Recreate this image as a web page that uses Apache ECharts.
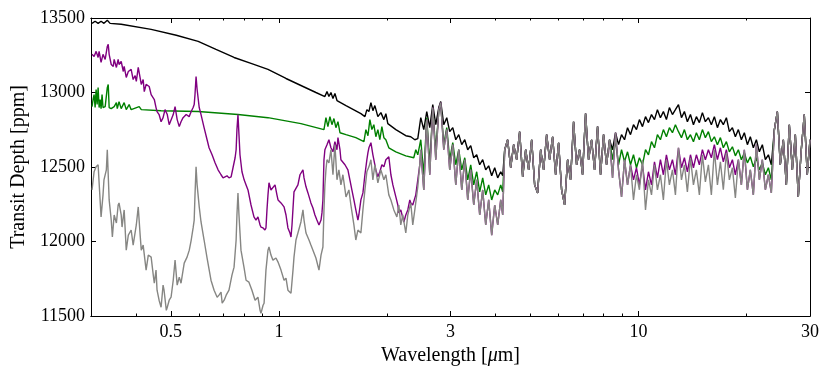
<!DOCTYPE html>
<html>
<head>
<meta charset="utf-8">
<script src="https://cdn.jsdelivr.net/npm/echarts@6/dist/echarts.min.js"></script>
<style>
  html, body { margin: 0; padding: 0; background: #fff; }
  #chart { width: 830px; height: 375px; }
</style>
</head>
<body>
<div id="chart"></div>
<script>
// wavelength [um], transit depth [ppm], short-wave part of each model
var blackHead = [
  [0.302, 13464], [0.308, 13478], [0.314, 13464], [0.320, 13478], [0.326, 13464], [0.333, 13485],
  [0.339, 13464], [0.364, 13458], [0.441, 13424], [0.518, 13384], [0.596, 13343], [0.668, 13289],
  [0.750, 13235], [0.836, 13195], [0.932, 13155], [1.046, 13094], [1.151, 13047], [1.267, 13000],
  [1.342, 12973], [1.360, 13006], [1.377, 12973], [1.395, 13000], [1.413, 12959], [1.431, 12993],
  [1.450, 12946], [1.468, 12959], [1.536, 12912], [1.690, 12858], [1.734, 12838], [1.756, 12885],
  [1.779, 12872], [1.802, 12932], [1.825, 12878], [1.848, 12912], [1.884, 12838], [1.921, 12865],
  [1.958, 12818], [1.983, 12858], [2.008, 12791], [2.114, 12751], [2.253, 12710], [2.326, 12703],
  [2.387, 12683], [2.433, 12690], [2.480, 12831], [2.528, 12751], [2.577, 12872], [2.627, 12764],
  [2.678, 12919], [2.730, 12784], [2.783, 12899], [2.818, 12939], [2.873, 12784], [2.929, 12831],
  [2.985, 12737], [3.044, 12764], [3.103, 12683], [3.163, 12717], [3.224, 12650], [3.287, 12683],
  [3.350, 12616], [3.415, 12643], [3.481, 12562], [3.548, 12582], [3.617, 12515], [3.687, 12549],
  [3.759, 12481], [3.831, 12508], [3.906, 12441], [3.982, 12495], [4.059, 12427], [4.138, 12468],
  [4.191, 12441]
];

var greenHead = [
  [0.302, 12905], [0.304, 12953], [0.306, 12986], [0.308, 12899], [0.310, 13020], [0.312, 12919],
  [0.314, 13033], [0.316, 12899], [0.318, 12953], [0.320, 12892], [0.322, 12986], [0.324, 12899],
  [0.3285, 12905], [0.333, 13033], [0.335, 13054], [0.337, 12899], [0.3415, 12892], [0.348, 12905],
  [0.353, 12932], [0.355, 12892], [0.359, 12939], [0.364, 12892], [0.371, 12932], [0.376, 12885],
  [0.383, 12919], [0.388, 12885], [0.4085, 12905], [0.414, 12885], [0.470, 12878], [0.596, 12872],
  [0.769, 12852], [0.932, 12831], [1.151, 12791], [1.334, 12751], [1.351, 12831], [1.368, 12771],
  [1.386, 12838], [1.404, 12784], [1.422, 12825], [1.440, 12764], [1.459, 12804], [1.478, 12730],
  [1.536, 12717], [1.636, 12697], [1.723, 12670], [1.745, 12751], [1.768, 12710], [1.790, 12818],
  [1.813, 12751], [1.836, 12784], [1.860, 12703], [1.884, 12751], [1.908, 12683], [1.933, 12771],
  [1.958, 12697], [1.983, 12683], [2.021, 12629], [2.114, 12602], [2.253, 12575], [2.371, 12562],
  [2.402, 12616], [2.433, 12582], [2.480, 12683], [2.528, 12448], [2.577, 12831], [2.627, 12515],
  [2.678, 12885], [2.730, 12616], [2.783, 12872], [2.818, 12926], [2.873, 12650], [2.929, 12764],
  [2.985, 12549], [3.044, 12663], [3.103, 12515], [3.163, 12616], [3.224, 12481], [3.287, 12562],
  [3.350, 12414], [3.415, 12515], [3.481, 12380], [3.548, 12468], [3.617, 12333], [3.687, 12427],
  [3.759, 12313], [3.831, 12380], [3.906, 12279], [3.982, 12346], [4.059, 12313], [4.138, 12380],
  [4.191, 12333]
];

// purple runs on the grey curve beyond 2.44 um
var purpleHead = [
  [0.302, 13256], [0.306, 13242], [0.310, 13276], [0.314, 13235], [0.316, 13276], [0.320, 13202],
  [0.324, 13256], [0.3285, 13222], [0.333, 13309], [0.335, 13323], [0.337, 13256], [0.3415, 13188],
  [0.346, 13175], [0.348, 13222], [0.353, 13168], [0.357, 13222], [0.359, 13188], [0.364, 13208],
  [0.369, 13141], [0.371, 13175], [0.376, 13101], [0.381, 13141], [0.388, 13155], [0.393, 13087],
  [0.398, 13114], [0.401, 13074], [0.406, 13168], [0.4085, 13134], [0.414, 13054], [0.419, 13087],
  [0.422, 13006], [0.427, 13054], [0.4355, 13040], [0.441, 12986], [0.444, 12973], [0.450, 12953],
  [0.455, 12899], [0.458, 12872], [0.464, 12852], [0.470, 12804], [0.476, 12831], [0.482, 12885],
  [0.489, 12852], [0.495, 12784], [0.501, 12771], [0.508, 12852], [0.514, 12905], [0.521, 12818],
  [0.528, 12771], [0.534, 12804], [0.541, 12831], [0.552, 12852], [0.5625, 12838], [0.570, 12872],
  [0.577, 12899], [0.581, 12919], [0.584, 12986], [0.588, 13107], [0.592, 13020], [0.600, 12899],
  [0.607, 12852], [0.619, 12764], [0.631, 12683], [0.639, 12629], [0.6515, 12582], [0.664, 12528],
  [0.677, 12481], [0.690, 12448], [0.699, 12427], [0.708, 12414], [0.717, 12441], [0.726, 12427],
  [0.736, 12434], [0.745, 12495], [0.755, 12562], [0.760, 12616], [0.764, 12751], [0.769, 12852],
  [0.774, 12717], [0.779, 12582], [0.789, 12468], [0.800, 12414], [0.810, 12380], [0.820, 12346],
  [0.836, 12245], [0.852, 12165], [0.863, 12144], [0.874, 12165], [0.886, 12111], [0.891, 12097],
  [0.903, 12091], [0.914, 12077], [0.920, 12091], [0.926, 12212], [0.932, 12313], [0.938, 12394],
  [0.950, 12346], [0.962, 12333], [0.975, 12380], [0.987, 12313], [0.994, 12279], [1.013, 12259],
  [1.033, 12232], [1.046, 12178], [1.059, 12091], [1.073, 12057], [1.080, 12030], [1.087, 12111],
  [1.101, 12333], [1.115, 12346], [1.129, 12380], [1.144, 12448], [1.166, 12481], [1.174, 12427],
  [1.189, 12367], [1.204, 12326], [1.227, 12259], [1.243, 12225], [1.259, 12178], [1.275, 12144],
  [1.292, 12111], [1.309, 12144], [1.317, 12192], [1.325, 12279], [1.334, 12549], [1.342, 12616],
  [1.360, 12650], [1.377, 12683], [1.395, 12629], [1.413, 12602], [1.431, 12670], [1.450, 12616],
  [1.459, 12697], [1.478, 12616], [1.487, 12549], [1.506, 12562], [1.526, 12515], [1.555, 12481],
  [1.575, 12414], [1.595, 12346], [1.616, 12279], [1.636, 12212], [1.658, 12144], [1.668, 12178],
  [1.690, 12279], [1.712, 12326], [1.734, 12448], [1.756, 12549], [1.768, 12596], [1.779, 12629],
  [1.802, 12663], [1.825, 12582], [1.836, 12549], [1.860, 12481], [1.884, 12434], [1.908, 12468],
  [1.933, 12515], [1.958, 12501], [1.983, 12549], [2.021, 12569], [2.048, 12448], [2.074, 12380],
  [2.087, 12367], [2.114, 12299], [2.141, 12245], [2.155, 12192], [2.182, 12212], [2.225, 12131],
  [2.253, 12178], [2.282, 12212], [2.312, 12279], [2.326, 12259], [2.356, 12245], [2.402, 12313],
  [2.433, 12414]
];

var grayHead = [
  [0.302, 12346], [0.306, 12468], [0.310, 12501], [0.314, 12515], [0.316, 12394], [0.320, 12165],
  [0.324, 12313], [0.326, 12414], [0.331, 12481], [0.333, 12616], [0.337, 12279], [0.3415, 12144],
  [0.344, 12030], [0.348, 12178], [0.353, 12124], [0.357, 12245], [0.359, 12259], [0.364, 12178],
  [0.366, 12097], [0.371, 12212], [0.376, 11942], [0.381, 12043], [0.388, 12077], [0.393, 11976],
  [0.396, 11963], [0.401, 12111], [0.406, 12232], [0.411, 12043], [0.414, 11942], [0.419, 11976],
  [0.427, 11808], [0.433, 11909], [0.441, 11895], [0.447, 11774], [0.450, 11720], [0.455, 11808],
  [0.458, 11673], [0.464, 11606], [0.470, 11559], [0.476, 11707], [0.479, 11673], [0.486, 11538],
  [0.489, 11559], [0.495, 11606], [0.501, 11626], [0.508, 11740], [0.514, 11875], [0.521, 11707],
  [0.528, 11761], [0.534, 11720], [0.545, 11855], [0.555, 11895], [0.563, 11942], [0.570, 12010],
  [0.577, 12091], [0.581, 12144], [0.584, 12313], [0.588, 12501], [0.592, 12380], [0.600, 12232],
  [0.607, 12131], [0.619, 12010], [0.631, 11889], [0.647, 11740], [0.660, 11673], [0.673, 11626],
  [0.681, 11640], [0.690, 11660], [0.695, 11586], [0.704, 11606], [0.713, 11640], [0.726, 11673],
  [0.740, 11774], [0.750, 11828], [0.760, 12010], [0.764, 12178], [0.769, 12326], [0.774, 12178],
  [0.784, 11942], [0.800, 11821], [0.810, 11740], [0.825, 11727], [0.841, 11673], [0.858, 11606],
  [0.874, 11626], [0.886, 11538], [0.891, 11518], [0.903, 11572], [0.909, 11586], [0.920, 11808],
  [0.932, 11942], [0.938, 11963], [0.950, 11909], [0.962, 11875], [0.981, 11889], [0.994, 11862],
  [1.013, 11808], [1.033, 11740], [1.046, 11754], [1.059, 11673], [1.080, 11653], [1.094, 11808],
  [1.101, 11895], [1.115, 12010], [1.129, 12057], [1.151, 12131], [1.166, 12212], [1.174, 12144],
  [1.189, 12057], [1.212, 12010], [1.227, 11976], [1.243, 11942], [1.267, 11889], [1.292, 11808],
  [1.309, 11909], [1.325, 11963], [1.334, 12212], [1.342, 12380], [1.351, 12481], [1.360, 12549],
  [1.377, 12528], [1.395, 12616], [1.413, 12448], [1.431, 12650], [1.450, 12414], [1.468, 12481],
  [1.487, 12380], [1.506, 12448], [1.536, 12299], [1.565, 12346], [1.585, 12245], [1.616, 12111],
  [1.636, 12010], [1.658, 12077], [1.690, 12057], [1.712, 12212], [1.734, 12346], [1.756, 12468],
  [1.779, 12501], [1.802, 12549], [1.825, 12414], [1.848, 12515], [1.884, 12394], [1.921, 12481],
  [1.958, 12414], [1.983, 12448], [2.021, 12313], [2.048, 12279], [2.087, 12212], [2.128, 12165],
  [2.155, 12245], [2.182, 12111], [2.210, 12178], [2.253, 12057], [2.282, 12178], [2.326, 12259],
  [2.356, 12111], [2.387, 12212], [2.433, 12367], [2.464, 12515], [2.480, 12616], [2.528, 12346],
  [2.577, 12818], [2.627, 12448], [2.678, 12899], [2.730, 12549], [2.783, 12885], [2.818, 12932],
  [2.873, 12616], [2.929, 12751], [2.985, 12481], [3.044, 12650], [3.103, 12380], [3.163, 12616],
  [3.224, 12346], [3.287, 12549], [3.350, 12279], [3.415, 12481], [3.481, 12245], [3.548, 12414],
  [3.617, 12178], [3.687, 12346], [3.759, 12111], [3.831, 12279], [3.906, 12043], [3.982, 12245],
  [4.059, 12111], [4.138, 12279], [4.191, 12178]
];

// long-wave part, all models share it except between 8.47 and 23.42 um
var wlTail = [
  4.245, 4.326, 4.411, 4.496, 4.583, 4.672, 4.763, 4.855, 4.949, 5.045,
  5.143, 5.242, 5.344, 5.447, 5.553, 5.660, 5.770, 5.882, 5.995, 6.112,
  6.230, 6.351, 6.474, 6.599, 6.727, 6.858, 6.990, 7.126, 7.264, 7.405,
  7.548, 7.695, 7.844, 7.996, 8.151, 8.309, 8.470, 8.634, 8.801, 8.972,
  9.146, 9.323, 9.502, 9.686, 9.873, 10.06, 10.26, 10.46, 10.66, 10.87,
  11.08, 11.29, 11.51, 11.73, 11.96, 12.19, 12.43, 12.67, 12.92, 13.17,
  13.42, 13.68, 13.95, 14.22, 14.49, 14.77, 15.06, 15.35, 15.65, 15.95,
  16.26, 16.58, 16.90, 17.22, 17.56, 17.90, 18.25, 18.60, 18.96, 19.33,
  19.70, 20.09, 20.47, 20.87, 21.28, 21.69, 22.11, 22.54, 22.98, 23.42,
  23.88, 24.34, 24.80, 25.29, 25.78, 26.28, 26.79, 27.31, 27.83, 28.37,
  28.92, 29.48, 30.0
];
var grayTail = [
  12616, 12683, 12495, 12650, 12549, 12737, 12434, 12616, 12481, 12683,
  12380, 12326, 12616, 12481, 12717, 12549, 12703, 12448, 12663, 12347,
  12246, 12549, 12414, 12804, 12515, 12616, 12448, 12858, 12549, 12683,
  12481, 12771, 12448, 12717, 12515, 12683, 12427, 12730, 12481, 12299,
  12549, 12380, 12515, 12279, 12448, 12347, 12549, 12212, 12414, 12313,
  12515, 12347, 12448, 12279, 12549, 12380, 12481, 12313, 12629, 12414,
  12515, 12333, 12562, 12380, 12481, 12313, 12582, 12400, 12515, 12313,
  12616, 12380, 12535, 12347, 12596, 12414, 12495, 12293, 12549, 12380,
  12616, 12347, 12481, 12313, 12650, 12414, 12549, 12347, 12448, 12326,
  12751, 12872, 12515, 12683, 12380, 12784, 12481, 12717, 12299, 12616,
  12852, 12448, 12683
];
var humpFrom = 36; // wlTail[36] = 8.47 um
var blackHump = [
  12616, 12730, 12650, 12717, 12683, 12764, 12717, 12784, 12751, 12818,
  12771, 12838, 12798, 12852, 12818, 12885, 12831, 12872, 12818, 12899,
  12852, 12885, 12919, 12831, 12872, 12804, 12852, 12784, 12838, 12798,
  12865, 12804, 12831, 12784, 12838, 12764, 12818, 12784, 12831, 12737,
  12764, 12703, 12751, 12683, 12730, 12650, 12703, 12629, 12683, 12602,
  12650, 12549, 12582, 12515
];
var greenHump = [
  12549, 12683, 12515, 12616, 12535, 12602, 12515, 12582, 12495, 12562,
  12515, 12616, 12582, 12670, 12629, 12717, 12683, 12751, 12703, 12764,
  12730, 12784, 12737, 12697, 12751, 12683, 12717, 12670, 12730, 12683,
  12751, 12697, 12737, 12670, 12703, 12650, 12697, 12629, 12670, 12602,
  12636, 12575, 12616, 12549, 12596, 12528, 12569, 12501, 12562, 12481,
  12528, 12448, 12495, 12414
];
var purpleHump = [
  12427, 12730, 12481, 12299, 12549, 12380, 12515, 12414, 12495, 12380,
  12515, 12347, 12468, 12380, 12535, 12427, 12549, 12448, 12582, 12481,
  12549, 12448, 12629, 12495, 12562, 12468, 12582, 12495, 12582, 12515,
  12616, 12549, 12616, 12562, 12650, 12549, 12629, 12535, 12616, 12495,
  12549, 12448, 12549, 12380, 12616, 12347, 12481, 12313, 12650, 12414,
  12549, 12347, 12448, 12326
];

var majorTicks = [0.5, 1, 3, 10, 30];
var minorTicks = [0.4, 0.6, 0.7, 0.8, 0.9, 2, 4, 5, 6, 7, 8, 9, 20];

function tail(hump) {
  return wlTail.map(function (w, i) {
    var j = i - humpFrom;
    var v = (hump && j >= 0 && j < hump.length) ? hump[j] : grayTail[i];
    return [w, v];
  });
}

var grayData = grayHead.concat(tail(null));
var purpleData = purpleHead.concat(grayHead.filter(function (p) { return p[0] > 2.44; }), tail(purpleHump));
var greenData = greenHead.concat(tail(greenHump));
var blackData = blackHead.concat(tail(blackHump));

var serif = 'Liberation Serif';

function xAx(pos, ticks, len, labels) {
  return {
    type: 'log',
    logBase: 10,
    min: 0.3,
    max: 30,
    position: pos,
    axisLine: { show: true, onZero: false, lineStyle: { color: '#000', width: 1 } },
    axisTick: { show: true, inside: true, length: len, customValues: ticks, lineStyle: { color: '#000', width: 1 } },
    axisLabel: {
      show: labels,
      customValues: ticks,
      margin: 7,
      color: '#000',
      fontFamily: serif,
      fontSize: 18,
      formatter: function (v) { return String(+Number(v).toPrecision(3)); }
    },
    splitLine: { show: false },
    minorTick: { show: false }
  };
}

function yAx(pos, labels) {
  return {
    type: 'value',
    min: 11500,
    max: 13500,
    interval: 500,
    position: pos,
    axisLine: { show: true, onZero: false, lineStyle: { color: '#000', width: 1 } },
    axisTick: { show: true, inside: true, length: 5, lineStyle: { color: '#000', width: 1 } },
    axisLabel: {
      show: labels, margin: 6, color: '#000', fontFamily: serif, fontSize: 18,
      formatter: function (v) { return String(v); }
    },
    splitLine: { show: false }
  };
}

var xMain = xAx('bottom', majorTicks, 5, true);
xMain.name = 'Wavelength [{i|\u03bc}m]';
xMain.nameLocation = 'middle';
xMain.nameGap = 27;
xMain.nameTextStyle = {
  color: '#000', fontFamily: serif, fontSize: 20,
  rich: { i: { fontStyle: 'italic', fontFamily: serif, fontSize: 20, color: '#000' } }
};

var yMain = yAx('left', true);
yMain.name = 'Transit Depth [ppm]';
yMain.nameLocation = 'middle';
yMain.nameGap = 62;
yMain.nameTextStyle = { color: '#000', fontFamily: serif, fontSize: 20 };

function line(name, color, data) {
  return {
    name: name,
    type: 'line',
    data: data,
    xAxisIndex: 0,
    yAxisIndex: 0,
    showSymbol: false,
    symbol: 'none',
    silent: true,
    lineStyle: { color: color, width: 1.4 },
    emphasis: { disabled: true }
  };
}

var chart = echarts.init(document.getElementById('chart'), null, { renderer: 'canvas' });
chart.setOption({
  animation: false,
  backgroundColor: '#fff',
  grid: { left: 91, right: 20, top: 18, bottom: 59, containLabel: false },
  xAxis: [
    xMain,
    xAx('bottom', minorTicks, 2.5, false),
    xAx('top', majorTicks, 5, false),
    xAx('top', minorTicks, 2.5, false)
  ],
  yAxis: [yMain, yAx('right', false)],
  series: [
    line('black', '#000000', blackData),
    line('green', '#008000', greenData),
    line('purple', '#800080', purpleData),
    line('gray', '#868683', grayData)
  ]
});
</script>
</body>
</html>
